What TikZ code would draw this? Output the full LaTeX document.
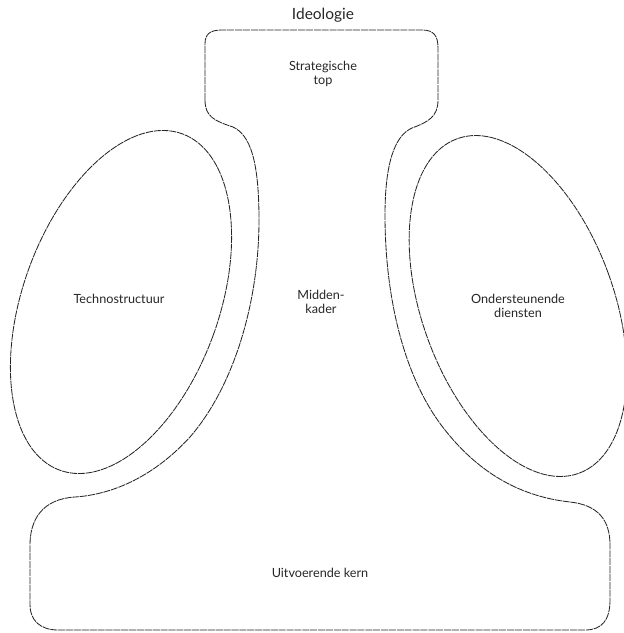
\documentclass[tikz,border=0pt]{standalone}
\usepackage{fontspec}
\setsansfont{Lato}
\usetikzlibrary{positioning}
\tikzset{
  outline/.style={draw=black!85, line width=0.6pt, dash pattern=on 5pt off 0.6pt},
  part/.style={font=\sffamily\fontsize{9}{10.5}\selectfont, align=center, text=black!85, inner sep=1pt},
  head/.style={font=\sffamily\fontsize{11}{13}\selectfont, text=black!85, inner sep=1pt},
}
\begin{document}
\begin{tikzpicture}[x=0.025cm, y=-0.025cm]
  \useasboundingbox (0,0) rectangle (624,633);
  % organisation outline: strategic top, middle line and operating core
  \draw[outline] (205,100) -- (205,44) .. controls (205,34) and (210,30) .. (222,30)
    -- (422,30) .. controls (434,30) and (438,36) .. (438,48) -- (438,100)
    .. controls (438,117) and (428,122) .. (412,128)
    .. controls (394,136) and (385,165) .. (385,215)
    .. controls (385,300) and (405,380) .. (445,430)
    .. controls (475,468) and (515,496) .. (570,502)
    .. controls (598,505) and (610,520) .. (610,545) -- (610,600)
    .. controls (610,620) and (602,630) .. (585,630) -- (58,630)
    .. controls (40,630) and (30,620) .. (30,605) -- (30,545)
    .. controls (30,520) and (42,499) .. (75,497)
    .. controls (120,494) and (160,470) .. (190,437)
    .. controls (235,385) and (259,300) .. (259,220)
    .. controls (259,160) and (250,135) .. (233,127)
    .. controls (215,121) and (205,117) .. (205,100) -- cycle;
  % technostructure and support staff
  \draw[outline] (121,302) ellipse [x radius=98, y radius=179, rotate=-20];
  \draw[outline] (518,306) ellipse [x radius=96, y radius=178, rotate=20];
  % labels
  \node[head] (ideo) at (323,15) {Ideologie};
  \node[part] (top) at (323,74) {Strategische\\top};
  \node[part] (mid) at (321,302) {Midden-\\kader};
  \node[part] (techno) at (119,299) {Technostructuur};
  \node[part] (staff) at (518,306) {Ondersteunende\\diensten};
  \node[part] (core) at (320,573) {Uitvoerende kern};
\end{tikzpicture}
\end{document}
